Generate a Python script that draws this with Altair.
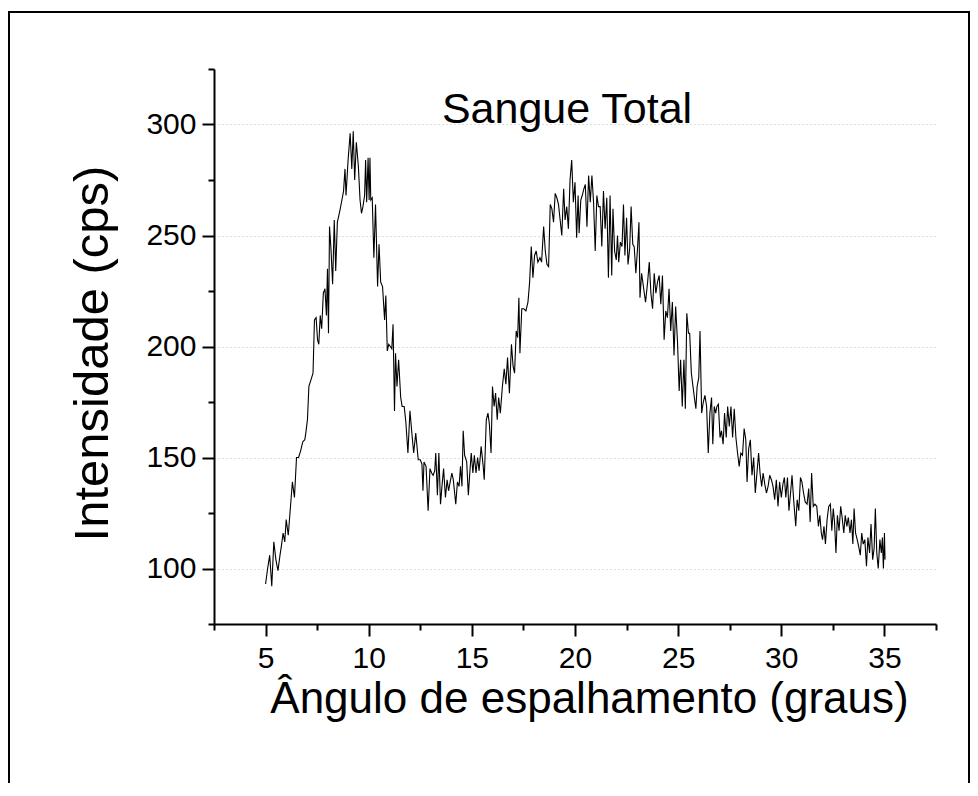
import altair as alt
import pandas as pd

# Scattering angle (degrees)
angle = [5.0,5.1,5.2,5.3,5.4,5.5,5.6,5.7,5.78,5.85,5.93,6.0,6.1,6.2,6.3,6.4,6.5,6.6,6.7,6.8,6.9,6.95,7.03,7.1,7.2,7.3,7.37,7.45,7.52,7.58,7.65,7.72,7.8,7.88,7.95,8.0,8.05,8.1,8.17,8.25,8.33,8.4,8.48,8.55,8.62,8.7,8.78,8.85,8.9,9.0,9.1,9.18,9.25,9.32,9.4,9.5,9.58,9.65,9.72,9.8,9.85,9.9,9.97,10.02,10.06,10.1,10.17,10.25,10.33,10.43,10.5,10.58,10.67,10.77,10.83,10.9,10.97,11.05,11.12,11.18,11.25,11.3,11.37,11.45,11.55,11.62,11.72,11.8,11.9,12.0,12.1,12.18,12.28,12.4,12.5,12.58,12.63,12.68,12.78,12.88,12.97,13.05,13.12,13.2,13.25,13.33,13.4,13.48,13.56,13.63,13.72,13.8,13.87,13.95,14.03,14.1,14.22,14.3,14.38,14.45,14.52,14.58,14.65,14.75,14.83,14.9,14.97,15.05,15.12,15.2,15.28,15.35,15.45,15.55,15.6,15.7,15.78,15.85,15.93,16.0,16.08,16.15,16.23,16.3,16.38,16.48,16.57,16.65,16.73,16.82,16.92,17.0,17.07,17.15,17.22,17.28,17.33,17.42,17.52,17.62,17.72,17.8,17.88,17.96,18.04,18.12,18.2,18.3,18.38,18.48,18.56,18.64,18.72,18.8,18.88,18.96,19.04,19.12,19.2,19.28,19.36,19.45,19.52,19.6,19.68,19.76,19.84,19.92,20.0,20.08,20.15,20.2,20.28,20.35,20.43,20.5,20.58,20.66,20.74,20.82,20.9,20.98,21.06,21.14,21.22,21.3,21.38,21.46,21.54,21.62,21.7,21.78,21.84,21.92,22.0,22.06,22.12,22.2,22.28,22.35,22.42,22.5,22.57,22.65,22.72,22.8,22.87,22.95,23.03,23.1,23.15,23.23,23.33,23.42,23.52,23.6,23.68,23.76,23.84,23.92,24.0,24.08,24.16,24.24,24.32,24.4,24.48,24.56,24.64,24.72,24.8,24.88,24.97,25.05,25.12,25.2,25.28,25.35,25.42,25.5,25.56,25.64,25.72,25.8,25.86,25.92,26.0,26.06,26.14,26.22,26.3,26.38,26.46,26.54,26.62,26.68,26.75,26.82,26.88,26.95,27.03,27.1,27.18,27.25,27.33,27.4,27.48,27.56,27.64,27.72,27.8,27.88,27.96,28.04,28.12,28.2,28.28,28.34,28.42,28.5,28.58,28.66,28.74,28.82,28.9,28.97,29.05,29.12,29.2,29.28,29.36,29.44,29.52,29.6,29.68,29.76,29.84,29.92,30.0,30.08,30.15,30.22,30.3,30.37,30.45,30.52,30.6,30.7,30.77,30.85,30.93,31.0,31.08,31.16,31.25,31.33,31.4,31.47,31.55,31.63,31.72,31.8,31.87,31.94,32.0,32.07,32.14,32.22,32.3,32.38,32.45,32.52,32.58,32.65,32.72,32.8,32.88,32.95,33.03,33.1,33.18,33.25,33.33,33.4,33.47,33.53,33.6,33.68,33.75,33.83,33.9,33.97,34.05,34.13,34.2,34.28,34.35,34.43,34.5,34.56,34.63,34.7,34.78,34.85,34.9,34.95,35.0,35.03]

# Intensity (cps)
intensity = [93,100,106,92,112,104,99,106,111,116,112,122,115,127,139,132,150,150,153,157,158,161,167,182,185,188,212,213,203,201,214,208,224,226,214,235,206,254,244,228,257,234,256,259,262,266,270,280,268,284,296,280,297,275,292,281,266,260,263,268,284,265,285,266,285,266,267,240,264,227,246,229,227,212,223,198,201,200,199,210,171,197,182,194,177,173,173,166,152,171,160,152,161,149,149,147,135,148,146,126,145,143,142,144,152,133,152,129,138,145,132,140,135,139,143,140,129,139,137,146,137,162,151,148,133,143,152,143,151,143,150,144,155,146,140,167,170,165,152,182,173,179,167,177,170,182,190,183,195,179,201,191,188,207,204,222,197,217,217,216,220,229,245,231,241,243,238,240,238,254,243,237,236,264,262,256,269,267,264,257,250,271,257,263,253,275,284,265,274,249,268,251,266,268,271,273,254,277,265,277,265,243,268,263,263,245,270,253,267,231,268,232,262,243,239,250,238,247,245,264,241,258,237,244,263,246,245,233,244,256,222,233,226,220,229,238,224,217,233,224,229,232,219,232,203,216,213,226,207,220,196,218,202,180,194,173,194,172,215,206,206,188,182,176,172,182,186,207,170,175,178,173,152,170,177,156,173,170,173,174,159,162,156,170,159,173,164,173,159,172,159,152,146,152,151,163,158,139,154,158,142,150,134,143,152,143,137,143,138,134,137,142,140,137,131,140,128,139,132,138,141,132,141,126,134,142,131,119,131,126,141,139,134,130,129,136,121,143,128,129,128,119,124,116,113,119,111,122,128,129,117,127,121,107,124,117,128,123,116,124,119,123,116,122,111,127,116,113,110,106,116,111,113,101,114,107,120,104,109,127,107,100,113,107,114,100,116,104]

x_major = [5, 10, 15, 20, 25, 30, 35]
x_minor = [2.5, 7.5, 12.5, 17.5, 22.5, 27.5, 32.5, 37.5]
y_major = [100, 150, 200, 250, 300]
y_minor = [75, 125, 175, 225, 275, 325]

title_text = "Sangue Total"
x_title = "Ângulo de espalhamento (graus)"
y_title = "Intensidade (cps)"

FONT = "Liberation Sans, Arial, sans-serif"

df = pd.DataFrame({"angle": angle, "intensity": intensity, "idx": list(range(len(angle)))})

xscale = alt.Scale(domain=[2.5, 37.5], nice=False, zero=False)
yscale = alt.Scale(domain=[75, 325], nice=False, zero=False)

major_x = alt.Axis(orient="bottom", values=x_major, tickSize=12, tickWidth=2, tickColor="black",
                   domainColor="black", domainWidth=2, labelFontSize=30, labelFont=FONT,
                   labelColor="black", labelPadding=7, grid=False, title=x_title,
                   titleFont=FONT, titleFontSize=44, titleFontWeight="normal", titleColor="black",
                   titleX=375, titleY=88, titleBaseline="alphabetic", titleAlign="center")
major_y = alt.Axis(orient="left", values=y_major, tickSize=12, tickWidth=2, tickColor="black",
                   domainColor="black", domainWidth=2, labelFontSize=30, labelFont=FONT,
                   labelColor="black", labelPadding=6, grid=True, gridColor="#bdbdbd",
                   gridDash=[1, 3], gridWidth=1, title=y_title,
                   titleFont=FONT, titleFontSize=49, titleFontWeight="normal", titleColor="black",
                   titleAngle=270, titleX=-107, titleY=284, titleBaseline="alphabetic",
                   titleAlign="center")
minor_x = alt.Axis(orient="bottom", values=x_minor, tickSize=6, tickWidth=2, tickColor="black",
                   domain=False, labels=False, grid=False, title=None)
minor_y = alt.Axis(orient="left", values=y_minor, tickSize=6, tickWidth=2, tickColor="black",
                   domain=False, labels=False, grid=False, title=None)

base = alt.Chart(df)

line = base.mark_line(color="black", strokeWidth=1.1).encode(
    x=alt.X("angle:Q", scale=xscale, axis=major_x),
    y=alt.Y("intensity:Q", scale=yscale, axis=major_y),
    order="idx:Q",
)

minor = base.mark_line(opacity=0).encode(
    x=alt.X("angle:Q", scale=xscale, axis=minor_x),
    y=alt.Y("intensity:Q", scale=yscale, axis=minor_y),
    order="idx:Q",
)

one = pd.DataFrame({"t": [title_text]})
title = alt.Chart(one).mark_text(fontSize=43, font=FONT, color="black", baseline="alphabetic",
                                 align="center").encode(
    text="t:N", x=alt.value(353), y=alt.value(54))

frame = alt.Chart(one).mark_rect(fillOpacity=0, stroke="black", strokeWidth=2).encode(
    x=alt.value(-205), x2=alt.value(755), y=alt.value(-57), y2=alt.value(800))

chart = alt.layer(line, minor, title, frame).resolve_axis(
    x="independent", y="independent"
).properties(
    width=722, height=555,
    padding={"left": 206, "top": 61, "right": 34, "bottom": 159},
    autosize=alt.AutoSizeParams(type="none"),
).configure_view(stroke=None)

chart.save("out.html", embed_options={"renderer": "svg", "actions": False})
